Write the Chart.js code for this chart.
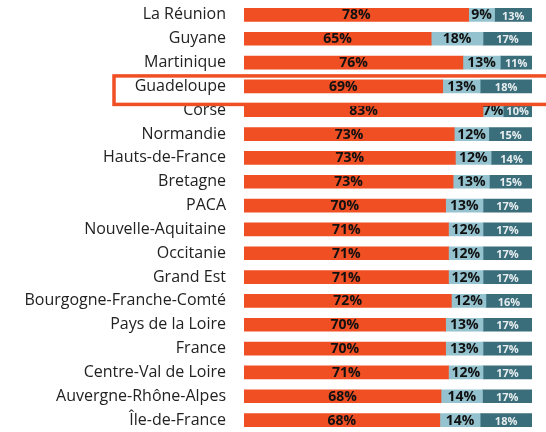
<!DOCTYPE html>
<html>
<head>
<meta charset="utf-8">
<script src="https://cdn.jsdelivr.net/npm/chart.js@4/dist/chart.umd.min.js"></script>
<style>
  html, body { margin: 0; padding: 0; background: #fff; }
  #wrap { width: 546px; height: 432px; }
</style>
</head>
<body>
<div id="wrap"><canvas id="chart" width="546" height="432"></canvas></div>
<script>
// régions (de haut en bas)
const regions = [
    'La Réunion', 'Guyane', 'Martinique', 'Guadeloupe', 'Corse', 'Normandie',
    'Hauts-de-France', 'Bretagne', 'PACA', 'Nouvelle-Aquitaine', 'Occitanie',
    'Grand Est', 'Bourgogne-Franche-Comté', 'Pays de la Loire', 'France',
    'Centre-Val de Loire', 'Auvergne-Rhône-Alpes', 'Île-de-France'
];

// parts en %
const part1 = [78, 65, 76, 69, 83, 73, 73.4, 72.6, 70, 71, 71, 71, 72, 70, 70, 71, 68.4, 68];
const part2 = [9, 18, 13, 13, 7, 12, 12.4, 12.6, 13, 12, 12, 12, 12, 13, 13, 12, 14.4, 14];
const part3 = [13, 17, 11, 18, 10, 15, 14.2, 14.8, 17, 17, 17, 17, 16, 17, 17, 17, 17.2, 18];

const highlighted = 'Guadeloupe';

const colors = ['#f04e23', '#94c3cf', '#3a6e7b'];

// étiquettes de valeur dans les barres
const valueLabels = {
    id: 'valueLabels',
    afterDatasetsDraw(chart) {
        const c = chart.ctx;
        c.save();
        c.textAlign = 'center';
        c.textBaseline = 'middle';
        chart.data.datasets.forEach((ds, i) => {
            const meta = chart.getDatasetMeta(i);
            meta.data.forEach((bar, j) => {
                const txt = Math.round(ds.data[j]) + '%';
                const cx = (bar.x + bar.base) / 2;
                if (i === 2) {
                    c.font = 'bold 11px "Open Sans"';
                    c.fillStyle = '#e8eef0';
                    c.fillText(txt, cx, bar.y + 1.5);
                } else {
                    c.font = 'bold 14px "Open Sans"';
                    c.fillStyle = '#111';
                    c.fillText(txt, cx, bar.y + 0.5);
                }
            });
        });
        c.restore();
    }
};

// cadre autour de la région mise en avant
const highlightBox = {
    id: 'highlightBox',
    afterDraw(chart) {
        const y = chart.scales.y.getPixelForValue(regions.indexOf(highlighted));
        const left = chart.chartArea.left - 130;
        const c = chart.ctx;
        c.save();
        c.strokeStyle = '#f04e23';
        c.lineWidth = 3.5;
        c.strokeRect(left, y - 10.5, 600, 28.5);
        c.restore();
    }
};

const ctx = document.getElementById('chart').getContext('2d');
new Chart(ctx, {
    type: 'bar',
    data: {
        labels: regions,
        datasets: [
            { label: 'part 1', data: part1, backgroundColor: colors[0] },
            { label: 'part 2', data: part2, backgroundColor: colors[1] },
            { label: 'part 3', data: part3, backgroundColor: colors[2] }
        ]
    },
    options: {
        indexAxis: 'y',
        responsive: false,
        animation: false,
        datasets: { bar: { barThickness: 13, borderWidth: 0 } },
        layout: { autoPadding: false, padding: { top: 3, right: 14, bottom: 0, left: 0 } },
        scales: {
            x: { stacked: true, min: 0, max: 100, display: false },
            y: {
                stacked: true,
                grid: { display: false, drawTicks: false },
                border: { display: false },
                ticks: {
                    padding: 18,
                    color: '#222',
                    font: { family: '"Open Sans"', size: 16 }
                },
                afterFit(scale) {
                    scale.width = 244;
                    scale.paddingTop = 0;
                    scale.paddingBottom = 0;
                }
            }
        },
        plugins: {
            legend: { display: false },
            tooltip: { enabled: false }
        }
    },
    plugins: [valueLabels, highlightBox]
});
</script>
</body>
</html>
